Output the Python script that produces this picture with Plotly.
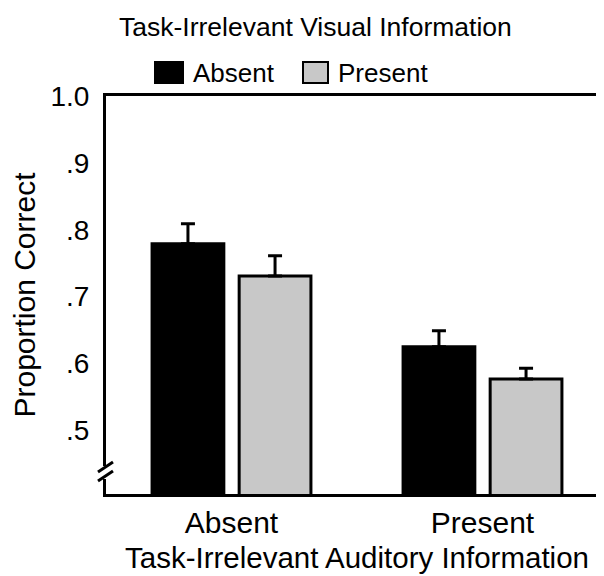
import plotly.graph_objects as go

# Task-irrelevant auditory information (x categories)
auditory = ['Absent', 'Present']
# Task-irrelevant visual information (series)
visual_absent = [0.779, 0.625]
visual_absent_err = [0.030, 0.024]
visual_present = [0.731, 0.577]
visual_present_err = [0.030, 0.016]

y_ticks = [0.5, 0.6, 0.7, 0.8, 0.9, 1.0]
y_ticktext = ['.5', '.6', '.7', '.8', '.9', '1.0']

W, H = 604, 576
OFF = 8  # page body margin in the browser
L, R, T, B = 106 - OFF, 4, 96 - OFF, 90
FONT = 'Liberation Sans, Arial, sans-serif'


def px(x):
    # screen pixel -> paper fraction
    return (x - OFF - L) / (W - L - R)


def py(y):
    return (H - B - (y - OFF)) / (H - T - B)


fig = go.Figure()
fig.add_trace(go.Bar(
    x=auditory, y=visual_absent, name='Absent',
    marker=dict(color='#000000', line=dict(color='#000000', width=3)),
    error_y=dict(type='data', array=visual_absent_err, arrayminus=[0, 0],
                 symmetric=False, color='#000000', thickness=3, width=7),
))
fig.add_trace(go.Bar(
    x=auditory, y=visual_present, name='Present',
    marker=dict(color='#c8c8c8', line=dict(color='#000000', width=3)),
    error_y=dict(type='data', array=visual_present_err, arrayminus=[0, 0],
                 symmetric=False, color='#000000', thickness=3, width=7),
))

shapes = []
# legend swatches
shapes.append(dict(type='rect', xref='paper', yref='paper',
                   x0=px(155), x1=px(183), y0=py(83), y1=py(62),
                   fillcolor='#000000', line=dict(color='#000000', width=2)))
shapes.append(dict(type='rect', xref='paper', yref='paper',
                   x0=px(303), x1=px(328), y0=py(83), y1=py(62),
                   fillcolor='#c8c8c8', line=dict(color='#000000', width=2)))
# axis break marks
shapes.append(dict(type='rect', xref='paper', yref='paper',
                   x0=px(103), x1=px(109), y0=py(479), y1=py(466),
                   fillcolor='white', line=dict(width=0)))
for y0 in (472, 481):
    shapes.append(dict(type='line', xref='paper', yref='paper',
                       x0=px(98), x1=px(113), y0=py(y0), y1=py(y0 - 10),
                       line=dict(color='#000000', width=3)))

annotations = [
    dict(text='Task-Irrelevant Visual Information', xref='paper', yref='paper',
         x=px(315), y=py(27), showarrow=False, xanchor='center', yanchor='middle',
         font=dict(size=26.5, color='#000000')),
    dict(text='Absent', xref='paper', yref='paper',
         x=px(191), y=py(73), showarrow=False, xanchor='left', yanchor='middle',
         font=dict(size=26, color='#000000')),
    dict(text='Present', xref='paper', yref='paper',
         x=px(336), y=py(73), showarrow=False, xanchor='left', yanchor='middle',
         font=dict(size=26, color='#000000')),
]

fig.update_layout(
    width=W, height=H,
    margin=dict(l=L, r=R, t=T, b=B),
    paper_bgcolor='white', plot_bgcolor='white',
    font=dict(family=FONT, color='#000000', size=28),
    barmode='group', bargap=0.306, bargroupgap=0.176,
    showlegend=False,
    shapes=shapes, annotations=annotations,
    xaxis=dict(
        showline=True, linecolor='#000000', linewidth=3, mirror=True,
        showgrid=False, ticks='', tickfont=dict(size=30),
        title=dict(text='Task-Irrelevant Auditory Information',
                   font=dict(size=29.5), standoff=10),
    ),
    yaxis=dict(
        range=[0.405, 1.0], tickvals=y_ticks, ticktext=y_ticktext,
        showline=True, linecolor='#000000', linewidth=3,
        showgrid=False, zeroline=False, ticks='', ticklabelstandoff=8,
        tickfont=dict(size=28),
        title=dict(text='Proportion Correct', font=dict(size=30), standoff=10),
    ),
)

fig.write_html('out.html')
